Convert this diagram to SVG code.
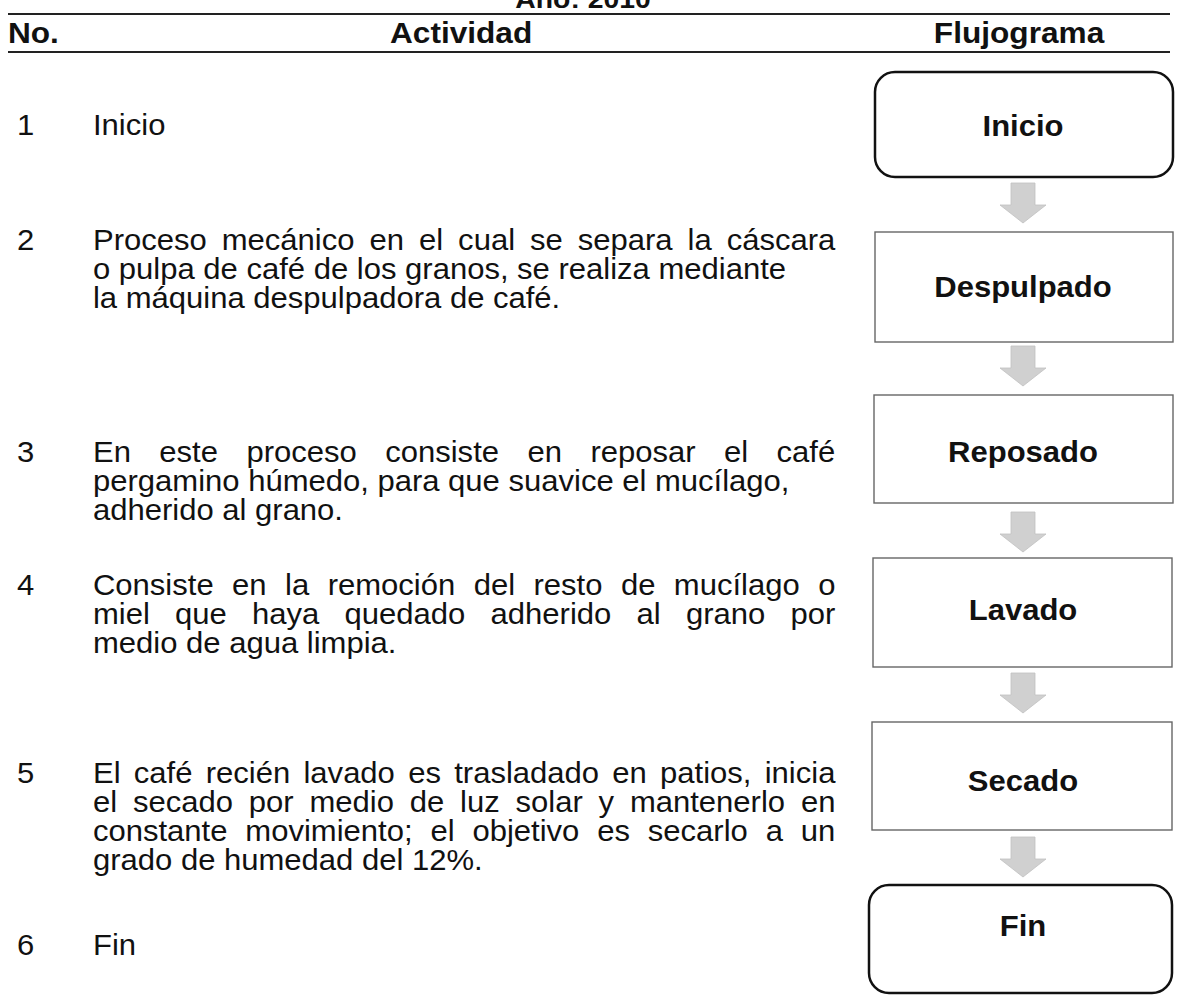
<svg xmlns="http://www.w3.org/2000/svg" width="1178" height="1004" viewBox="0 0 1178 1004">
<defs>
<style>
.t{font-family:"Liberation Sans",Arial,sans-serif;font-size:29px;fill:#111}
.b{font-family:"Liberation Sans",Arial,sans-serif;font-size:29px;font-weight:bold;fill:#111}
.h{font-family:"Liberation Sans",Arial,sans-serif;font-size:29px;font-weight:bold;fill:#111}
.term{fill:#fff;stroke:#111;stroke-width:2.5}
.proc{fill:#fff;stroke:#666;stroke-width:1.4}
.arr{fill:#d0d0d0;stroke:#c0c0c0;stroke-width:0.8}
.rule{stroke:#222;stroke-width:2}
</style>
<path id="arrow" d="M-12,0 H12 V22 H23 L0,40 L-23,22 H-12 Z"/>
</defs>
<rect width="1178" height="1004" fill="#fff"/>

<g id="header">
<line class="rule" x1="8" y1="14" x2="1170" y2="14"/>
<line class="rule" x1="8" y1="52" x2="1170" y2="52"/>
<g transform="scale(1.09,1)">
<text class="h" x="534.9" y="8" text-anchor="middle" style="font-size:26px">Año: 2010</text>
<text class="h" x="7.3" y="43">No.</text>
<text class="h" x="357.8" y="43">Actividad</text>
<text class="h" x="934.9" y="43" text-anchor="middle">Flujograma</text>
</g>
</g>

<g id="activities" transform="scale(1.07,1)">
<text class="t" x="15.9" y="135">1</text>
<text class="t" x="86.9" y="135">Inicio</text>

<text class="t" x="15.9" y="250">2</text>
<text class="t" x="86.9" y="250" style="word-spacing:5.97px">Proceso mecánico en el cual se separa la cáscara</text>
<text class="t" x="86.9" y="279">o pulpa de café de los granos, se realiza mediante</text>
<text class="t" x="86.9" y="308">la máquina despulpadora de café.</text>

<text class="t" x="15.9" y="462">3</text>
<text class="t" x="86.9" y="462" style="word-spacing:18.54px">En este proceso consiste en reposar el café</text>
<text class="t" x="86.9" y="491">pergamino húmedo, para que suavice el mucílago,</text>
<text class="t" x="86.9" y="520">adherido al grano.</text>

<text class="t" x="15.9" y="595">4</text>
<text class="t" x="86.9" y="595" style="word-spacing:9.2px">Consiste en la remoción del resto de mucílago o</text>
<text class="t" x="86.9" y="624" style="word-spacing:15.55px">miel que haya quedado adherido al grano por</text>
<text class="t" x="86.9" y="653">medio de agua limpia.</text>

<text class="t" x="15.9" y="783">5</text>
<text class="t" x="86.9" y="783" style="word-spacing:4.36px">El café recién lavado es trasladado en patios, inicia</text>
<text class="t" x="86.9" y="812" style="word-spacing:6.74px">el secado por medio de luz solar y mantenerlo en</text>
<text class="t" x="86.9" y="841" style="word-spacing:8.66px">constante movimiento; el objetivo es secarlo a un</text>
<text class="t" x="86.9" y="870">grado de humedad del 12%.</text>

<text class="t" x="15.9" y="955">6</text>
<text class="t" x="86.9" y="955">Fin</text>
</g>

<g id="connectors">
<use href="#arrow" class="arr" x="1023" y="183"/>
<use href="#arrow" class="arr" x="1023" y="346"/>
<use href="#arrow" class="arr" x="1023" y="512"/>
<use href="#arrow" class="arr" x="1023" y="673"/>
<use href="#arrow" class="arr" x="1023" y="837"/>
</g>

<g id="node-inicio">
<rect class="term" x="875" y="72" width="298" height="105" rx="20"/>
<text class="b" transform="scale(1.07,1)" x="956.1" y="136" text-anchor="middle">Inicio</text>
</g>
<g id="node-despulpado">
<rect class="proc" x="875" y="232" width="298" height="110"/>
<text class="b" transform="scale(1.07,1)" x="956.1" y="297" text-anchor="middle">Despulpado</text>
</g>
<g id="node-reposado">
<rect class="proc" x="874" y="395" width="299" height="108"/>
<text class="b" transform="scale(1.07,1)" x="956.1" y="462" text-anchor="middle">Reposado</text>
</g>
<g id="node-lavado">
<rect class="proc" x="873" y="558" width="299" height="109"/>
<text class="b" transform="scale(1.07,1)" x="956.1" y="620" text-anchor="middle">Lavado</text>
</g>
<g id="node-secado">
<rect class="proc" x="872" y="722" width="300" height="108"/>
<text class="b" transform="scale(1.07,1)" x="956.1" y="791" text-anchor="middle">Secado</text>
</g>
<g id="node-fin">
<rect class="term" x="869" y="885" width="303" height="108" rx="20"/>
<text class="b" transform="scale(1.07,1)" x="956.1" y="936" text-anchor="middle">Fin</text>
</g>
</svg>
